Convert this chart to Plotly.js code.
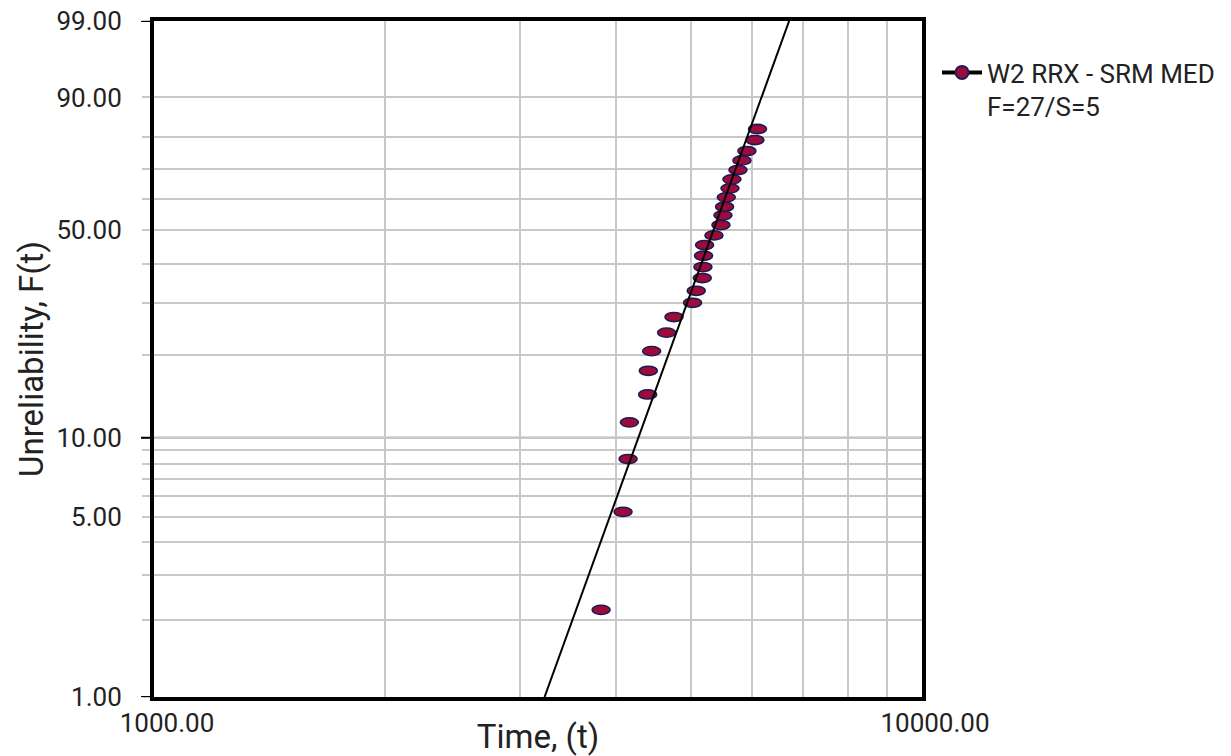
<!DOCTYPE html>
<html><head><meta charset="utf-8">
<script src="https://cdn.plot.ly/plotly-3.0.1.min.js"></script>
<style>html,body{margin:0;padding:0;background:#fff}#chart{width:1231px;height:756px}</style>
</head><body><div id="chart"></div>
<script>
// Failure times (t) and median-rank unreliability (%)
const failureTimes = [3821, 4081, 4143, 4159, 4393, 4402, 4446, 4650, 4754, 5026, 5082, 5175, 5185, 5195, 5211, 5359, 5473, 5506, 5533, 5561, 5623, 5656, 5759, 5828, 5916, 6059, 6107];
const unreliabilityPct = [2.19, 5.24, 8.32, 11.41, 14.45, 17.58, 20.63, 23.91, 26.99, 30.10, 32.91, 36.11, 39.04, 42.21, 45.35, 48.30, 51.53, 54.66, 57.47, 60.59, 63.59, 66.58, 69.66, 72.80, 75.75, 79.10, 82.27];
// Fitted Weibull line end points (time, unreliability %)
const fitLineTimes = [3225, 6714];
const fitLinePct = [1, 99];
// Axis grid / tick values
const yGridPct = [1, 2, 3, 4, 5, 6, 7, 8, 9, 10, 20, 30, 40, 50, 60, 70, 80, 90, 99];
const yLabeledPct = [1, 5, 10, 50, 90, 99];
const yDarkTickPct = [1, 10, 99];
const xGridTimes = [1000, 2000, 3000, 4000, 5000, 6000, 7000, 8000, 9000, 10000];
const xLabeledTimes = [1000, 10000];
const seriesName = 'W2 RRX - SRM MED<br>F=27/S=5';

// Weibull probability paper: log10 time on x, ln(-ln(1-F)) on y
function weib(p) { const F = p / 100; return Math.log(-Math.log(1 - F)); }
function lt(t) { return Math.log10(t); }

const FONT = 'Roboto, "Open Sans", Arial, sans-serif';
const TXT = '#222222';
const FILL = '#9c0b3b';
const EDGE = '#1c1c54';

const xData = failureTimes.map(lt);
const yData = unreliabilityPct.map(weib);

const traces = [
  {
    x: xData, y: yData, type: 'scatter', mode: 'markers',
    customdata: failureTimes,
    marker: { symbol: 'circle', size: 6, color: FILL, line: { width: 0 } },
    showlegend: false, hoverinfo: 'skip'
  },
  {
    x: fitLineTimes.map(lt), y: fitLinePct.map(weib), type: 'scatter', mode: 'lines',
    line: { color: '#000', width: 2 }, showlegend: false, hoverinfo: 'skip'
  },
  {
    x: [null], y: [null], type: 'scatter', mode: 'lines+markers', name: seriesName,
    line: { color: '#000', width: 4 },
    marker: { symbol: 'circle', size: 13, color: FILL, line: { color: EDGE, width: 2 } }
  }
];

const shapes = [];
// darker 10% reference line
shapes.push({ type: 'line', xref: 'paper', yref: 'y', x0: 0, x1: 1, y0: weib(10), y1: weib(10),
  line: { color: '#6e6e6e', width: 2 }, layer: 'between' });
// elliptical markers
xData.forEach((x, i) => {
  shapes.push({ type: 'circle', xref: 'x', yref: 'y', xsizemode: 'pixel', ysizemode: 'pixel',
    xanchor: x, yanchor: yData[i], x0: -9, x1: 9, y0: -4.6, y1: 4.6,
    fillcolor: FILL, line: { color: EDGE, width: 1.6 }, layer: 'between' });
});
// dark tick marks
yDarkTickPct.forEach(p => {
  shapes.push({ type: 'line', xref: 'paper', yref: 'y', xsizemode: 'pixel', xanchor: 0, x0: -13, x1: 0,
    y0: weib(p), y1: weib(p), line: { color: '#000', width: 2 }, layer: 'above' });
});

const layout = {
  width: 1231, height: 756,
  paper_bgcolor: '#fff', plot_bgcolor: '#fff',
  margin: { l: 154, r: 308, t: 21, b: 59 },
  font: { family: FONT, color: TXT },
  showlegend: true,
  legend: { x: 1 + (937 - 923) / 769, y: 1 - (49 - 21) / 676, xanchor: 'left', yanchor: 'top',
    font: { family: FONT, size: 26, color: TXT }, valign: 'top', itemwidth: 40,
    bgcolor: 'rgba(0,0,0,0)', borderwidth: 0 },
  xaxis: {
    type: 'linear', range: [lt(1000), lt(10000)], tickvals: xGridTimes.map(lt),
    ticktext: xGridTimes.map(v => xLabeledTimes.includes(v) ? v.toFixed(2) : ''),
    showgrid: true, gridcolor: '#c8c8c8', gridwidth: 2, ticks: '', zeroline: false,
    showline: true, linecolor: '#000', linewidth: 4, mirror: true,
    tickfont: { family: FONT, size: 26, color: TXT }, ticklabelshift: 13,
    title: { text: 'Time, (t)', font: { family: FONT, size: 33, color: TXT }, standoff: 2 }
  },
  yaxis: {
    range: [weib(1), weib(99)], tickvals: yGridPct.map(weib),
    ticktext: yGridPct.map(v => yLabeledPct.includes(v) ? v.toFixed(2) : ''),
    ticks: 'outside', ticklen: 8, tickwidth: 2, tickcolor: '#c8c8c8',
    showgrid: true, gridcolor: '#c8c8c8', gridwidth: 2, zeroline: false,
    showline: true, linecolor: '#000', linewidth: 4, mirror: true,
    tickfont: { family: FONT, size: 26, color: TXT }, ticklabelstandoff: 15,
    title: { text: 'Unreliability, F(t)', font: { family: FONT, size: 33, color: TXT }, standoff: 4 }
  },
  shapes: shapes
};

Plotly.newPlot('chart', traces, layout, { displayModeBar: false, staticPlot: true });
</script>
</body></html>
